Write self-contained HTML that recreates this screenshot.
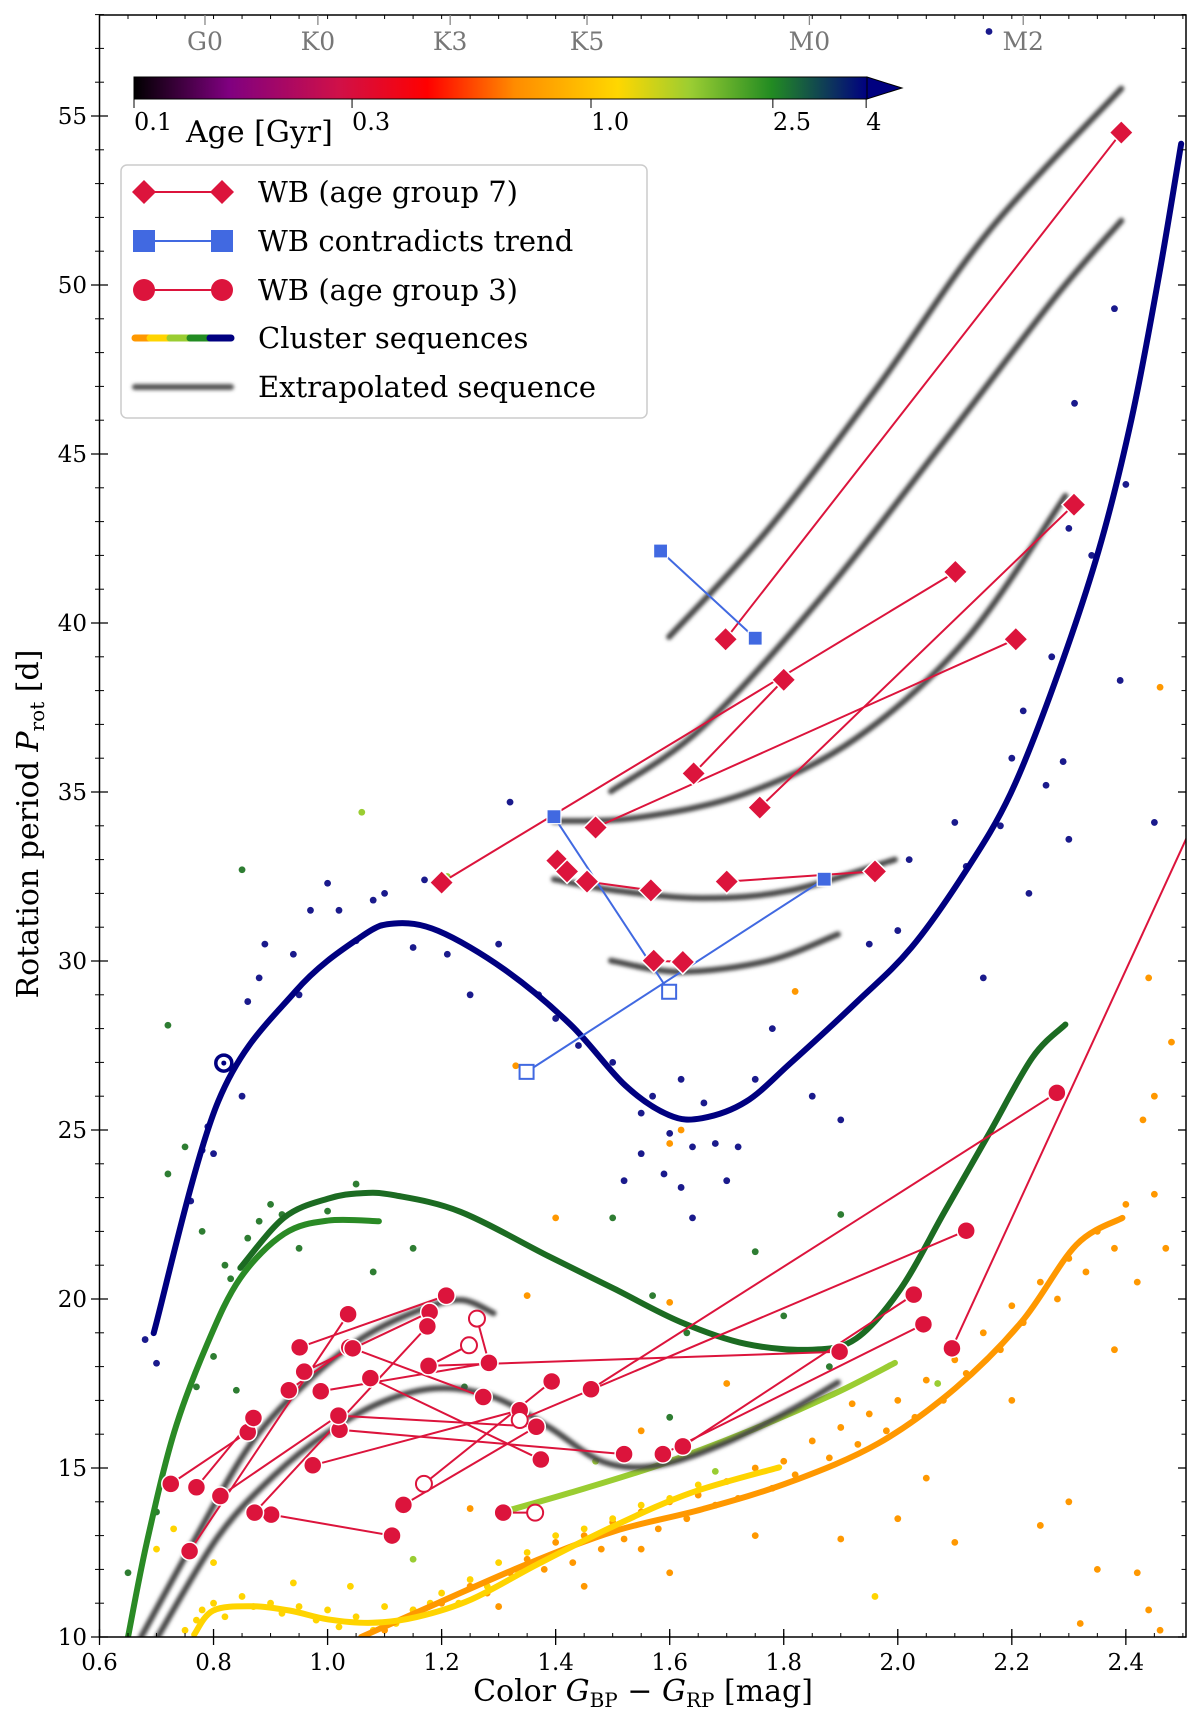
<!DOCTYPE html>
<html><head><meta charset="utf-8"><style>
html,body{margin:0;padding:0;background:#fff;}
body{position:relative;}
svg{display:block;font-family:"DejaVu Serif","Liberation Serif",serif;}
</style></head><body>
<svg id="chart" width="1200" height="1719" viewBox="0 0 1200 1719" xmlns="http://www.w3.org/2000/svg">
<defs>
<clipPath id="plotclip"><rect x="99.5" y="15" width="1086.5" height="1622"/></clipPath>
<filter id="blur" filterUnits="userSpaceOnUse" x="0" y="0" width="1200" height="1719"><feGaussianBlur stdDeviation="1.8"/></filter>
<linearGradient id="cbgrad" x1="0" x2="1" y1="0" y2="0">
<stop offset="0" stop-color="#000000"/><stop offset="0.13" stop-color="#800080"/><stop offset="0.28" stop-color="#d01048"/>
<stop offset="0.4" stop-color="#ff0000"/><stop offset="0.52" stop-color="#ff8c00"/><stop offset="0.66" stop-color="#ffd700"/>
<stop offset="0.76" stop-color="#9acd32"/><stop offset="0.87" stop-color="#228b22"/><stop offset="1" stop-color="#000080"/>
</linearGradient>
</defs>
<g id="plot" clip-path="url(#plotclip)"></g>
<g id="axes"></g>
<text x="643" y="1701" font-size="30" text-anchor="middle">Color <tspan font-style="italic">G</tspan><tspan font-size="20" dy="6">BP</tspan><tspan dy="-6"> − </tspan><tspan font-style="italic">G</tspan><tspan font-size="20" dy="6">RP</tspan><tspan dy="-6"> [mag]</tspan></text>
<text transform="translate(38,824) rotate(-90)" font-size="30" text-anchor="middle">Rotation period <tspan font-style="italic">P</tspan><tspan font-size="20" dy="6">rot</tspan><tspan dy="-6"> [d]</tspan></text>
<g font-size="29">
<rect x="121" y="165" width="526" height="253" rx="6" fill="#fff" fill-opacity="0.85" stroke="#ccc" stroke-width="1.5"/>
<g>
<line x1="144" y1="192" x2="222" y2="192" stroke="#dc143c" stroke-width="2"/>
<polygon points="144,180 156,192 144,204 132,192" fill="#dc143c"/><polygon points="222,180 234,192 222,204 210,192" fill="#dc143c"/>
<text x="258" y="202">WB (age group 7)</text></g>
<g>
<line x1="144" y1="241" x2="222" y2="241" stroke="#4169e1" stroke-width="2"/>
<rect x="133" y="230" width="22" height="22" fill="#4169e1"/><rect x="211" y="230" width="22" height="22" fill="#4169e1"/>
<text x="258" y="251">WB contradicts trend</text></g>
<g>
<line x1="144" y1="290" x2="222" y2="290" stroke="#dc143c" stroke-width="2"/>
<circle cx="144" cy="290" r="11" fill="#dc143c"/><circle cx="222" cy="290" r="11" fill="#dc143c"/>
<text x="258" y="300">WB (age group 3)</text></g>
<g stroke-width="7" stroke-linecap="round">
<line x1="135" y1="338" x2="150" y2="338" stroke="#ff9800"/><line x1="150" y1="338" x2="170" y2="338" stroke="#ffd400"/>
<line x1="170" y1="338" x2="190" y2="338" stroke="#9acd32"/><line x1="190" y1="338" x2="210" y2="338" stroke="#228b22"/>
<line x1="210" y1="338" x2="231" y2="338" stroke="#000080"/>
<text x="258" y="348" stroke="none">Cluster sequences</text></g>
<g>
<line x1="135" y1="387" x2="231" y2="387" stroke="#555" stroke-width="6" stroke-linecap="round" filter="url(#blur)"/>
<text x="258" y="397">Extrapolated sequence</text></g>
</g>
<g>
<rect x="134" y="77" width="733" height="22" fill="url(#cbgrad)" stroke="#000" stroke-width="1"/>
<polygon points="867,77 902,88 867,99" fill="#000080" stroke="#000" stroke-width="1"/>
<g id="cbticks"></g>
<text x="186" y="142" font-size="30">Age [Gyr]</text>
</g>
</svg>
<script>
// ---------- data ----------
const xTicks = [0.6,0.8,1.0,1.2,1.4,1.6,1.8,2.0,2.2,2.4];
const xTickLabels = ["0.6","0.8","1.0","1.2","1.4","1.6","1.8","2.0","2.2","2.4"];
const yTicks = [10,15,20,25,30,35,40,45,50,55];
const yTickLabels = ["10","15","20","25","30","35","40","45","50","55"];
const specTypes = ["G0","K0","K3","K5","M0","M2"];
const specColors = [0.785,0.983,1.215,1.455,1.845,2.22];
const cbTicks = [0.1,0.3,1.0,2.5,4];
const cbTickLabels = ["0.1","0.3","1.0","2.5","4"];

const seqNavy = [[0.695,18.99],[0.808,25.84],[0.943,29.09],[1.059,30.72],[1.117,31.11],[1.194,30.89],[1.310,29.75],[1.426,28.12],[1.522,26.32],[1.599,25.44],[1.657,25.35],[1.734,25.84],[1.812,26.98],[1.927,28.77],[2.024,30.40],[2.120,32.68],[2.198,34.96],[2.275,38.22],[2.352,42.13],[2.410,46.04],[2.458,50.27],[2.497,54.18]];
const seqDarkGreen = [[0.847,20.92],[0.924,22.41],[1.001,22.97],[1.059,23.13],[1.117,23.07],[1.233,22.58],[1.387,21.27],[1.503,20.30],[1.619,19.32],[1.734,18.67],[1.850,18.50],[1.927,18.83],[2.005,20.30],[2.082,22.58],[2.159,24.86],[2.236,27.14],[2.294,28.12]];
const seqGreen = [[0.650,10.0],[0.683,12.80],[0.731,16.06],[0.789,18.67],[0.847,20.62],[0.924,21.93],[1.001,22.32],[1.090,22.30]];
const seqYellowGreen = [[1.310,13.71],[1.426,14.27],[1.580,15.08],[1.734,16.06],[1.889,17.20],[1.995,18.11]];
const seqGold = [[0.766,10.07],[0.799,10.78],[0.866,10.91],[0.934,10.78],[1.001,10.52],[1.078,10.42],[1.156,10.59],[1.252,11.11],[1.368,12.15],[1.503,13.29],[1.638,14.27],[1.792,15.02]];
const seqOrange = [[1.059,10.0],[1.194,11.01],[1.349,12.15],[1.503,13.13],[1.657,13.78],[1.812,14.59],[1.966,15.73],[2.101,17.36],[2.217,19.32],[2.313,21.60],[2.394,22.40]];

const gray1 = [[1.599,39.59],[1.773,42.78],[1.966,47.02],[2.159,51.58],[2.392,55.81]];
const gray2 = [[1.497,35.02],[1.657,36.91],[1.869,40.82],[2.082,45.39],[2.275,49.62],[2.392,51.90]];
const gray3 = [[1.397,34.14],[1.542,34.24],[1.734,34.96],[1.927,36.59],[2.120,39.52],[2.294,43.76]];
const gray4 = [[1.397,32.42],[1.503,32.09],[1.657,31.86],[1.812,32.09],[1.995,33.00]];
const gray5 = [[1.497,30.01],[1.619,29.68],[1.773,30.01],[1.895,30.79]];
const gray6 = [[0.673,10.0],[0.770,12.97],[0.866,15.73],[0.963,17.53],[1.059,18.83],[1.156,19.64],[1.233,19.97],[1.291,19.58]];
const gray7 = [[0.702,10.0],[0.808,12.97],[0.905,14.76],[1.001,16.06],[1.098,16.97],[1.194,17.36],[1.291,17.10],[1.387,16.22],[1.484,15.18],[1.580,15.08],[1.696,15.73],[1.812,16.71],[1.895,17.53]];

const dotsNavy = [[0.68,18.8],[0.70,18.1],[0.76,22.9],[0.78,24.4],[0.79,25.1],[0.80,24.3],[0.85,26.0],[0.86,28.8],[0.88,29.5],[0.89,30.5],[0.94,30.2],[0.95,29.0],[0.97,31.5],[1.00,32.3],[1.02,31.5],[1.05,30.6],[1.08,31.8],[1.10,32.0],[1.15,30.4],[1.17,32.4],[1.21,30.2],[1.25,29.0],[1.30,30.5],[1.32,34.7],[1.37,29.0],[1.40,28.3],[1.44,27.5],[1.50,27.0],[1.52,23.5],[1.55,25.5],[1.57,26.0],[1.60,24.9],[1.62,26.5],[1.64,24.5],[1.66,25.8],[1.70,23.5],[1.72,24.5],[1.75,26.5],[1.78,28.0],[1.85,26.0],[1.90,25.3],[1.95,30.5],[2.00,30.9],[2.02,33.0],[2.10,34.1],[2.12,32.8],[2.15,29.5],[2.18,34.0],[2.20,36.0],[2.22,37.4],[2.23,32.0],[2.26,35.2],[2.27,39.0],[2.30,33.6],[2.31,46.5],[2.30,42.8],[2.38,49.3],[2.39,38.3],[2.40,44.1],[2.34,42.0],[2.45,34.1],[2.29,35.9],[2.16,57.5],[1.59,23.7],[1.64,22.4],[1.62,23.3],[1.55,24.3],[1.68,24.6]];
const dotsGreen = [[0.72,23.7],[0.75,24.5],[0.78,22.0],[0.82,21.0],[0.83,20.6],[0.86,21.8],[0.88,22.3],[0.90,22.8],[0.92,22.5],[0.95,21.5],[1.00,22.6],[1.05,23.4],[1.08,20.8],[1.15,21.5],[0.85,32.7],[0.72,28.1],[0.77,17.4],[0.80,18.3],[0.84,17.3],[0.70,13.7],[0.65,11.9],[1.50,22.4],[1.57,20.1],[1.63,19.0],[1.75,21.4],[1.80,19.5],[1.90,22.5],[1.88,18.0],[1.60,16.5],[1.24,17.4]];
const dotsOrange = [[1.10,10.2],[1.15,10.8],[1.20,11.0],[1.25,11.5],[1.28,11.3],[1.32,11.9],[1.35,12.3],[1.38,12.0],[1.40,12.8],[1.43,12.2],[1.45,13.0],[1.48,12.6],[1.50,13.4],[1.52,12.9],[1.55,13.7],[1.58,13.2],[1.60,14.0],[1.63,13.5],[1.65,14.2],[1.68,13.9],[1.70,14.6],[1.72,14.1],[1.75,15.0],[1.78,14.4],[1.80,15.2],[1.82,14.8],[1.85,15.8],[1.88,15.3],[1.90,16.2],[1.93,15.7],[1.95,16.6],[1.98,16.1],[2.00,17.0],[2.03,16.5],[2.05,17.6],[2.08,17.0],[2.10,18.2],[2.12,17.8],[2.15,19.0],[2.18,18.5],[2.20,19.8],[2.22,19.3],[2.25,20.5],[2.28,20.0],[2.30,21.2],[2.33,20.8],[2.35,22.0],[2.38,21.5],[2.40,22.8],[2.42,20.5],[2.45,23.1],[2.47,21.5],[2.43,25.3],[2.45,26.0],[2.46,38.1],[2.44,29.5],[2.48,27.6],[2.20,17.0],[2.30,14.0],[2.25,13.3],[2.35,12.0],[2.42,11.9],[2.46,10.2],[2.32,10.4],[2.10,12.8],[2.00,13.5],[1.90,12.9],[1.75,13.0],[1.60,11.9],[1.55,12.6],[1.45,11.5],[1.30,10.9],[1.70,17.5],[1.60,24.6],[1.62,25.0],[1.40,22.4],[1.25,13.8],[2.44,10.8],[1.33,26.9],[1.60,19.9],[1.82,29.1],[1.55,16.1],[1.35,20.1],[2.05,14.7],[1.92,16.9],[2.38,18.5]];
const dotsGold = [[0.75,10.2],[0.78,10.8],[0.80,11.0],[0.82,10.6],[0.85,11.2],[0.87,10.9],[0.90,11.0],[0.92,10.7],[0.95,10.9],[0.98,10.5],[1.00,10.8],[1.02,10.3],[1.05,10.6],[1.08,10.2],[1.10,10.9],[1.12,10.4],[1.15,10.8],[1.18,11.0],[1.20,11.3],[1.23,11.0],[1.25,11.7],[1.28,11.5],[1.30,12.2],[1.33,12.0],[1.35,12.5],[1.38,12.3],[1.40,13.0],[1.45,13.2],[1.50,13.5],[1.55,13.9],[1.60,14.1],[1.65,14.5],[0.70,12.6],[0.73,13.2],[0.80,12.2],[1.96,11.2],[0.77,10.5],[1.04,11.5],[0.94,11.6]];
const dotsYellowGreen = [[1.06,34.4],[1.21,32.5],[1.68,14.9],[2.07,17.5],[1.47,15.2],[1.15,12.3]];

const g7Pairs = [[1.200,32.32,2.101,41.51],[1.698,39.52,2.392,54.51],[1.642,35.55,1.800,38.32],[1.470,33.95,2.207,39.52],[1.758,34.54,2.309,43.50],[1.455,32.35,1.567,32.09],[1.700,32.35,1.960,32.65],[1.403,32.97,1.420,32.65],[1.572,30.01,1.623,29.97]];
const contraPairs = [[1.584,42.13,1.750,39.55],[1.397,34.27,1.599,29.09],[1.871,32.42,1.349,26.72]];
const contraOpen = [[1.599,29.09],[1.349,26.72]];
const g3Pairs = [[0.725,14.53,0.860,16.06],[0.770,14.43,0.870,16.48],[0.758,12.54,1.036,19.55],[0.812,14.17,1.019,16.55],[0.901,13.62,1.113,13.00],[0.932,17.30,1.038,18.57],[0.951,18.57,1.208,20.10],[0.959,17.85,1.179,19.61],[0.872,13.68,1.175,19.19],[0.974,15.08,1.337,16.71],[0.988,17.27,1.283,18.11],[1.075,17.66,1.374,15.25],[1.021,16.13,1.520,15.41],[1.177,18.02,1.898,18.44],[1.019,16.55,1.366,16.22],[1.133,13.91,1.366,16.22],[1.169,14.53,1.393,17.56],[1.308,13.68,1.364,13.68],[1.262,19.42,1.283,18.11],[1.248,18.63,1.177,18.02],[1.462,17.33,2.279,26.10],[1.337,16.42,2.120,22.02],[1.623,15.64,2.028,20.13],[1.588,15.41,2.045,19.25],[2.095,18.54,2.601,37.11],[1.044,18.54,1.273,17.10]];
const g3Open = [[1.169,14.53],[1.364,13.68],[1.262,19.42],[1.248,18.63],[1.337,16.42]];
const sunPoint = [0.818,26.98];

// ---------- scales ----------
const X = v => 99.5 + (v - 0.6) * 570.2;
const Y = v => 116 + (55 - v) * 33.8;
const CB = v => 134 + Math.log10(v / 0.1) * 457;
const NS = "http://www.w3.org/2000/svg";
function mk(tag, attrs, parent){ const e=document.createElementNS(NS,tag); for(const k in attrs) e.setAttribute(k,attrs[k]); parent.appendChild(e); return e; }
function smooth(pts){
  const p = pts.map(d=>[X(d[0]),Y(d[1])]);
  let s = "M"+p[0][0]+","+p[0][1];
  for(let i=0;i<p.length-1;i++){
    const p0=p[i-1]||p[i], p1=p[i], p2=p[i+1], p3=p[i+2]||p2;
    s += " C"+(p1[0]+(p2[0]-p0[0])/6)+","+(p1[1]+(p2[1]-p0[1])/6)+" "+(p2[0]-(p3[0]-p1[0])/6)+","+(p2[1]-(p3[1]-p1[1])/6)+" "+p2[0]+","+p2[1];
  }
  return s;
}
const plot = document.getElementById('plot');
const axes = document.getElementById('axes');

function dots(arr, color, name){
  const g = mk('g',{},plot);
  
  
  arr.forEach(d=>{
    const c = mk('circle',{cx:X(d[0]),cy:Y(d[1]),r:3.4,fill:color},g);
    
    
  });
}
dots(dotsOrange,'#ff9800','orange-cluster-stars');
dots(dotsGold,'#ffd400','gold-cluster-stars');
dots(dotsYellowGreen,'#9acd32','yellowgreen-cluster-stars');
dots(dotsGreen,'#2e7d32','green-cluster-stars');
dots(dotsNavy,'#1a1a8c','navy-cluster-stars');

function seq(arr,color,w,name){
  const p = mk('path',{d:smooth(arr),fill:'none',stroke:color,'stroke-width':w,'stroke-linecap':'round'},plot);
  
  
}
seq(seqOrange,'#ff9800',6,'orange-sequence');
seq(seqGold,'#ffd400',6,'gold-sequence');
seq(seqYellowGreen,'#9acd32',6,'yellowgreen-sequence');
seq(seqGreen,'#2a8a25',6,'green-sequence');
seq(seqDarkGreen,'#1c6b22',6,'darkgreen-sequence');
seq(seqNavy,'#000080',6,'navy-sequence');
[gray1,gray2,gray3,gray4,gray5,gray6,gray7].forEach(g=>{
  const p = mk('path',{d:smooth(g),fill:'none',stroke:'#4a4a4a','stroke-width':6,'stroke-linecap':'round',filter:'url(#blur)'},plot);
  
  
});

function pairLines(arr,color,name){
  arr.forEach(d=>{
    const l = mk('line',{x1:X(d[0]),y1:Y(d[1]),x2:X(d[2]),y2:Y(d[3]),stroke:color,'stroke-width':2},plot);
    
    
  });
}
pairLines(g3Pairs,'#dc143c','wb-group3-link');
pairLines(g7Pairs,'#dc143c','wb-group7-link');
pairLines(contraPairs,'#4169e1','wb-contradict-link');
function isOpen(list,x,y){ return list.some(o=>Math.abs(o[0]-x)<1e-6&&Math.abs(o[1]-y)<1e-6); }
g3Pairs.forEach(d=>{
  [[d[0],d[1]],[d[2],d[3]]].forEach(q=>{
    const open = isOpen(g3Open,q[0],q[1]);
    const c = mk('circle',{cx:X(q[0]),cy:Y(q[1]),r:open?8:9,fill:open?'#fff':'#dc143c',stroke:open?'#dc143c':'#fff','stroke-width':open?2:1.5},plot);
    
    
  });
});
g7Pairs.forEach(d=>{
  [[d[0],d[1]],[d[2],d[3]]].forEach(q=>{
    const cx=X(q[0]), cy=Y(q[1]), s=12;
    const p = mk('polygon',{points:`${cx},${cy-s} ${cx+s},${cy} ${cx},${cy+s} ${cx-s},${cy}`,fill:'#dc143c',stroke:'#fff','stroke-width':1.5},plot);
    
    
  });
});
contraPairs.forEach(d=>{
  [[d[0],d[1]],[d[2],d[3]]].forEach(q=>{
    const open = isOpen(contraOpen,q[0],q[1]);
    const s=7;
    const r = mk('rect',{x:X(q[0])-s,y:Y(q[1])-s,width:2*s,height:2*s,fill:open?'#fff':'#4169e1',stroke:open?'#4169e1':'#fff','stroke-width':open?2:1.2},plot);
    
    
  });
});
const sun = mk('g',{},plot);


mk('circle',{cx:X(sunPoint[0]),cy:Y(sunPoint[1]),r:8,fill:'#fff',stroke:'#000080','stroke-width':3.5},sun);
mk('circle',{cx:X(sunPoint[0]),cy:Y(sunPoint[1]),r:2.5,fill:'#000080'},sun);

const frame = mk('rect',{x:99.5,y:15,width:1086.5,height:1622,fill:'none',stroke:'#000','stroke-width':1.5},axes);


for(let v=0.6; v<=2.505; v+=0.05){
  const x=X(v);
  mk('line',{x1:x,y1:1637,x2:x,y2:1633,stroke:'#000','stroke-width':1},axes);
  mk('line',{x1:x,y1:15,x2:x,y2:19,stroke:'#000','stroke-width':1},axes);
}
for(let v=10; v<=58; v+=1){
  const y=Y(v);
  mk('line',{x1:99.5,y1:y,x2:104,y2:y,stroke:'#000','stroke-width':1},axes);
  mk('line',{x1:99.5,y1:y,x2:95,y2:y,stroke:'#000','stroke-width':1},axes);
  mk('line',{x1:1186,y1:y,x2:1181.5,y2:y,stroke:'#000','stroke-width':1},axes);
}
xTicks.forEach((v,i)=>{
  const x=X(v);
  mk('line',{x1:x,y1:1629,x2:x,y2:1645,stroke:'#000','stroke-width':1.3},axes);
  const t = mk('text',{x:x,y:1670,'font-size':23,'text-anchor':'middle',fill:'#000'},axes);
  t.textContent = xTickLabels[i];
  
  
});
yTicks.forEach((v,i)=>{
  const y=Y(v);
  mk('line',{x1:91,y1:y,x2:108,y2:y,stroke:'#000','stroke-width':1.3},axes);
  mk('line',{x1:1178,y1:y,x2:1186,y2:y,stroke:'#000','stroke-width':1.3},axes);
  const t = mk('text',{x:87,y:y+8,'font-size':23,'text-anchor':'end',fill:'#000'},axes);
  t.textContent = yTickLabels[i];
  
  
});
specTypes.forEach((s,i)=>{
  const x=X(specColors[i]);
  mk('line',{x1:x,y1:15,x2:x,y2:25,stroke:'#888','stroke-width':1.3},axes);
  const t = mk('text',{x:x,y:50,'font-size':25,'text-anchor':'middle',fill:'#777'},axes);
  t.textContent = s;
  
  
});
const cbt = document.getElementById('cbticks');
cbTicks.forEach((v,i)=>{
  const x=CB(v);
  mk('line',{x1:x,y1:99,x2:x,y2:108,stroke:'#000'},cbt);
  const t = mk('text',{x:x,y:130,'font-size':24},cbt);
  t.textContent = cbTickLabels[i];
  
  
});
</script>
</body></html>
